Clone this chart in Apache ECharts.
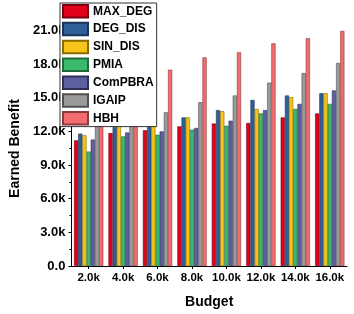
<!DOCTYPE html>
<html>
<head>
<meta charset="utf-8">
<script src="https://cdn.jsdelivr.net/npm/echarts@6/dist/echarts.min.js"></script>
<style>html,body{margin:0;padding:0;background:#fff}#c{width:354px;height:314px}</style>
</head>
<body>
<div id="c"></div>
<script>
const categories = ['2.0k','4.0k','6.0k','8.0k','10.0k','12.0k','14.0k','16.0k'];
const seriesNames = ['MAX_DEG','DEG_DIS','SIN_DIS','PMIA','ComPBRA','IGAIP','HBH'];
const MAX_DEG = [11200, 11850, 12100, 12450, 12700, 12750, 13250, 13600];
const DEG_DIS = [11800, 12400, 13000, 13250, 13900, 14800, 15200, 15400];
const SIN_DIS = [11650, 12700, 13000, 13250, 13800, 14000, 15050, 15400];
const PMIA    = [10200, 11550, 11700, 12150, 12500, 13600, 14000, 14450];
const ComPBRA = [11270, 11900, 12000, 12300, 12950, 13900, 14450, 15650];
const IGAIP   = [12500, 13800, 13700, 14600, 15200, 16350, 17200, 18100];
const HBH     = [15200, 16400, 17500, 18600, 19050, 19850, 20300, 20950];
const seriesData = [MAX_DEG, DEG_DIS, SIN_DIS, PMIA, ComPBRA, IGAIP, HBH];
const colors = ['#e2001a','#2f5f98','#f7c41b','#3cba6c','#5e5f9e','#9a9a9a','#f26b6e'];
const borders = ['#7a0010','#1a3558','#8a6a00','#1f6a3a','#2f3058','#505050','#8a3a3c'];

const chart = echarts.init(document.getElementById('c'));
chart.setOption({
  animation: false,
  textStyle: { fontFamily: 'Liberation Sans, Arial, sans-serif' },
  legend: {
    orient: 'vertical', left: 60, top: 3,
    padding: [1, 3, 1, 2],
    itemWidth: 25, itemHeight: 12.5, itemGap: 3.35,
    backgroundColor: '#fff', borderColor: '#333', borderWidth: 1,
    icon: 'rect',
    textStyle: { fontSize: 12, fontWeight: 'bold', color: '#000', lineHeight: 12.5, padding: [0,0,0,0] },
    data: seriesNames
  },
  grid: { left: 63, right: 7, top: 8, bottom: 47 },
  xAxis: {
    type: 'category', data: categories,
    name: 'Budget', nameLocation: 'middle', nameGap: 29,
    nameTextStyle: { fontSize: 14, fontWeight: 'bold', color: '#000' },
    axisLine: { lineStyle: { color: '#000', width: 1 } },
    axisTick: { show: true, alignWithLabel: true, interval: 0, length: 3, lineStyle: { color: '#000' } },
    axisLabel: { interval: 0, fontSize: 11.5, fontWeight: 'bold', color: '#000', margin: 6 }
  },
  yAxis: {
    type: 'value', min: 0, max: 23000, interval: 3000,
    name: 'Earned Benefit', nameLocation: 'middle', nameGap: 43,
    nameTextStyle: { fontSize: 14, fontWeight: 'bold', color: '#000', padding: [0, 0, 0, -23] },
    axisLine: { show: true, lineStyle: { color: '#000', width: 1 } },
    axisTick: { show: true, length: 3, lineStyle: { color: '#000' } },
    minorTick: { show: true, splitNumber: 2, length: 2, lineStyle: { color: '#000' } },
    splitLine: { show: false },
    axisLabel: {
      fontSize: 13, fontWeight: 'bold', color: '#000', margin: 6, showMaxLabel: false,
      formatter: v => (v === 0 ? '0.0' : (v / 1000).toFixed(1) + 'k')
    }
  },
  series: seriesNames.map((n, i) => ({
    name: n, type: 'bar', data: seriesData[i],
    barGap: '0%', barCategoryGap: '15%',
    itemStyle: { color: colors[i], borderColor: borders[i], borderWidth: 0.6 }
  }))
});
</script>
</body>
</html>
